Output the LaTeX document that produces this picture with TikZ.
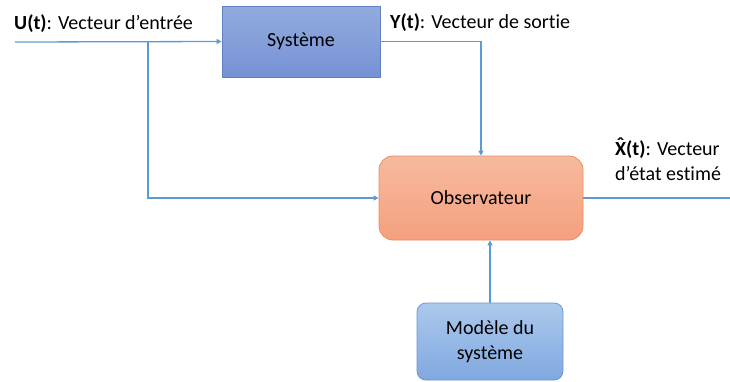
\documentclass[tikz,border=0pt]{standalone}
\usepackage{fontspec}
\setmainfont{Carlito}[Ligatures=CommonOff]
\usepackage{tikz}
\usetikzlibrary{arrows.meta,calc,positioning}
\definecolor{lineBlue}{RGB}{91,155,213}
\definecolor{sysTop}{RGB}{146,171,222}
\definecolor{sysBottom}{RGB}{118,146,212}
\definecolor{sysEdge}{RGB}{98,128,196}
\definecolor{obsTop}{RGB}{246,186,158}
\definecolor{obsBottom}{RGB}{245,160,126}
\definecolor{obsEdge}{RGB}{236,140,100}
\definecolor{modTop}{RGB}{172,201,236}
\definecolor{modBottom}{RGB}{128,168,224}
\definecolor{modEdge}{RGB}{108,150,210}

\begin{document}
\begin{tikzpicture}[
    x=1pt, y=-1pt,
    font=\fontsize{20}{25}\selectfont,
    flow/.style={-{Triangle[length=5pt,width=5pt]}, line width=1.3pt, draw=lineBlue},
    plain/.style={line width=1.3pt, draw=lineBlue},
    plant/.style={
      draw=sysEdge,
      line width=0.8pt,
      top color=sysTop,
      bottom color=sysBottom,
      align=center,
      minimum width=158pt,
      minimum height=71pt
    },
    observer/.style={
      rounded corners=14pt,
      draw=obsEdge,
      line width=0.8pt,
      top color=obsTop,
      bottom color=obsBottom,
      align=center,
      minimum width=204pt,
      minimum height=84pt
    },
    model/.style={
      rounded corners=9pt,
      draw=modEdge,
      line width=0.8pt,
      top color=modTop,
      bottom color=modBottom,
      align=center,
      minimum width=146pt,
      minimum height=77pt
    },
    tag/.style={anchor=base west, inner sep=0pt, align=left}
  ]
    \useasboundingbox (0,0) rectangle (730,381);

    \node[plant] (sys) at (301,41.5) {Système};
    \node[observer] (obs) at (481,198) {Observateur};
    \node[model] (mod) at (490,341.5) {Modèle du\\système};

    \coordinate (in) at (15,42);
    \coordinate (branch) at (148,42);
    \coordinate (out) at (730,198);

    \draw[flow] (in) -- (sys.west);
    \draw[flow] (branch) |- (obs.west);
    \draw[flow] (sys.east) -| (obs.north);
    \draw[flow] (mod.north) -- (mod.north |- obs.south);
    \draw[plain] (obs.east) -- (out);

    % labels; base of a two-line tag is its last line
    \node[tag] (ulabel) at (14,29) {\textbf{U(t)}: Vecteur d’entrée};
    \node[tag] (ylabel) at (390,28) {\textbf{Y(t)}: Vecteur de sortie};
    \node[tag] (xlabel) at (615,180) {\textbf{\accent"02C6 X(t)}: Vecteur\\d’état estimé};
  \end{tikzpicture}
\end{document}
